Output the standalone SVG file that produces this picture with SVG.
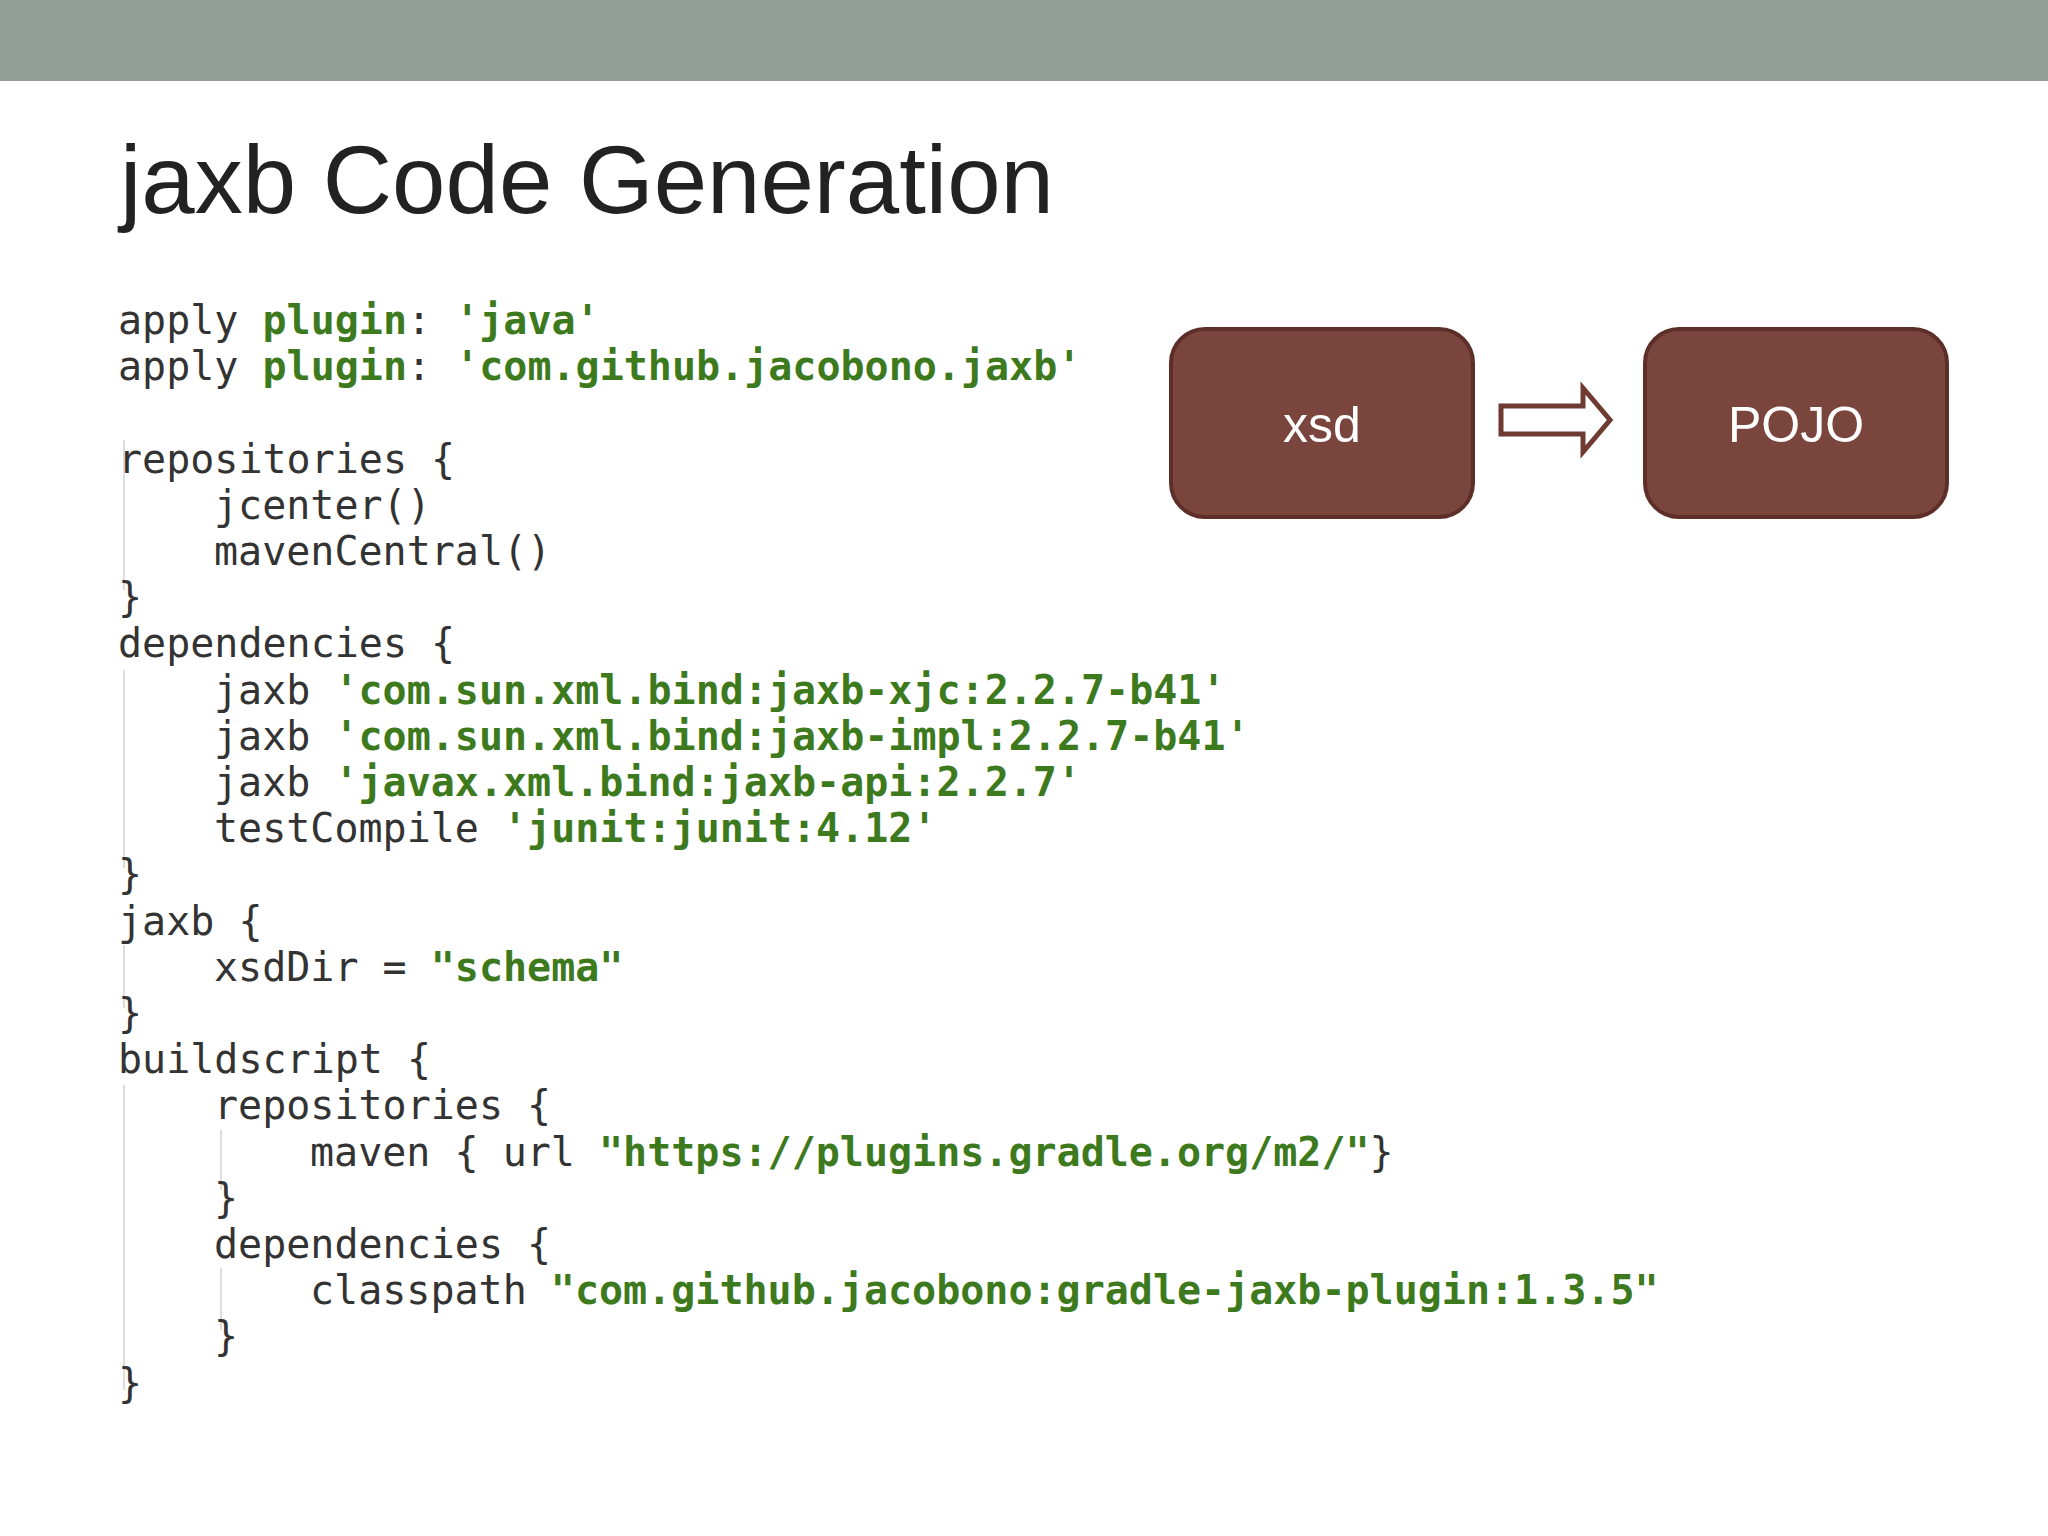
<svg xmlns="http://www.w3.org/2000/svg" width="2048" height="1536" viewBox="0 0 2048 1536">
<style>
.c{font-family:"DejaVu Sans Mono","Liberation Mono",monospace;font-size:40px;fill:#333}
.g{fill:#3d7a1e;font-weight:bold}
.box{fill:#7a453d;stroke:#5e2f28;stroke-width:4}
.lbl{font-family:"Liberation Sans",Arial,sans-serif;font-size:50px;fill:#fff;text-anchor:middle}
</style>
<rect width="2048" height="1536" fill="#fff"/>
<rect width="2048" height="81" fill="#919f96"/>
<text x="120" y="213" font-family="Liberation Sans,Arial,sans-serif" font-size="96" fill="#222">jaxb Code Generation</text>
<g stroke="#ddd" stroke-width="2">
<line x1="124" y1="440" x2="124" y2="590"/>
<line x1="124" y1="670" x2="124" y2="868"/>
<line x1="124" y1="945" x2="124" y2="1008"/>
<line x1="124" y1="1085" x2="124" y2="1390"/>
<line x1="221" y1="1130" x2="221" y2="1190"/>
<line x1="221" y1="1268" x2="221" y2="1330"/>
</g>
<g id="code" class="c" xml:space="preserve">
<text x="118" y="334">apply <tspan class="g">plugin</tspan>: <tspan class="g">'java'</tspan></text>
<text x="118" y="380">apply <tspan class="g">plugin</tspan>: <tspan class="g">'com.github.jacobono.jaxb'</tspan></text>
<text x="118" y="473">repositories {</text>
<text x="214" y="519">jcenter()</text>
<text x="214" y="565">mavenCentral()</text>
<text x="118" y="611">}</text>
<text x="118" y="657">dependencies {</text>
<text x="214" y="704">jaxb <tspan class="g">'com.sun.xml.bind:jaxb-xjc:2.2.7-b41'</tspan></text>
<text x="214" y="750">jaxb <tspan class="g">'com.sun.xml.bind:jaxb-impl:2.2.7-b41'</tspan></text>
<text x="214" y="796">jaxb <tspan class="g">'javax.xml.bind:jaxb-api:2.2.7'</tspan></text>
<text x="214" y="842">testCompile <tspan class="g">'junit:junit:4.12'</tspan></text>
<text x="118" y="888">}</text>
<text x="118" y="935">jaxb {</text>
<text x="214" y="981">xsdDir = <tspan class="g">"schema"</tspan></text>
<text x="118" y="1027">}</text>
<text x="118" y="1073">buildscript {</text>
<text x="214" y="1119">repositories {</text>
<text x="310" y="1166">maven { url <tspan class="g">"https://plugins.gradle.org/m2/"</tspan>}</text>
<text x="214" y="1212">}</text>
<text x="214" y="1258">dependencies {</text>
<text x="310" y="1304">classpath <tspan class="g">"com.github.jacobono:gradle-jaxb-plugin:1.3.5"</tspan></text>
<text x="214" y="1350">}</text>
<text x="118" y="1397">}</text>
</g>
<g id="xsd"><rect class="box" x="1171" y="329" width="302" height="188" rx="34"/><text class="lbl" x="1322" y="442">xsd</text></g>
<g id="pojo"><rect class="box" x="1645" y="329" width="302" height="188" rx="34"/><text class="lbl" x="1796" y="442">POJO</text></g>
<g id="connectors"><polygon points="1501,406 1583,406 1583,388 1610,420 1583,452 1583,434 1501,434" fill="#fff" stroke="#6e3a32" stroke-width="5"/></g>
</svg>
